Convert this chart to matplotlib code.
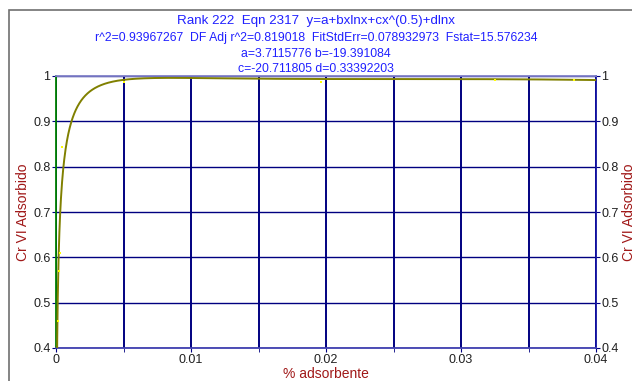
import matplotlib.pyplot as plt
from matplotlib.ticker import MultipleLocator
from matplotlib.patches import Rectangle
import numpy as np

plt.rcParams.update({'font.family': ['Liberation Sans', 'DejaVu Sans'], 'font.size': 8})

# fitted coefficients, eqn 2317: y = a + b*x*ln(x) + c*x^0.5 + d*ln(x)
a = 3.7115776
b = -19.391084
c = -20.711805
d = 0.33392203

# measured points (% adsorbente, Cr VI adsorbido)
x_data = [0.00012, 0.00025, 0.00032, 0.00044, 0.005, 0.0196, 0.0325, 0.0384]
y_data = [0.459, 0.57, 0.61, 0.843, 0.987, 0.987, 0.991, 0.991]

x_ticks = [0, 0.01, 0.02, 0.03, 0.04]
x_labels = ['0', '0.01', '0.02', '0.03', '0.04']
y_ticks = [0.4, 0.5, 0.6, 0.7, 0.8, 0.9, 1.0]
y_labels = ['0.4', '0.5', '0.6', '0.7', '0.8', '0.9', '1']

xf = np.linspace(0.00005, 0.04, 2000)
yf = a + b * xf * np.log(xf) + c * np.sqrt(xf) + d * np.log(xf)

fig = plt.figure(figsize=(6.32, 3.81), dpi=100)

# outer frame
fig.patches.append(Rectangle((9 / 632, -0.1), 1.0, (381 - 10) / 381 + 0.1,
                             transform=fig.transFigure, fill=False,
                             edgecolor='#707070', linewidth=1.2))

ax = fig.add_axes([56 / 632, 33 / 381, 540 / 632, 272 / 381])
ax.plot(xf, yf, color='#808000', linewidth=1.4, zorder=3)
ax.scatter(x_data, y_data, s=3, color='#ffff00', marker='s', zorder=4, linewidths=0)

ax.set_xlim(0, 0.04)
ax.set_ylim(0.4, 1.0)
ax.set_xticks(x_ticks)
ax.set_xticklabels(x_labels)
ax.xaxis.set_minor_locator(MultipleLocator(0.005))
ax.set_yticks(y_ticks)
ax.set_yticklabels(y_labels)

ax.grid(which='major', axis='y', color='#000080', linewidth=1.0)
ax.grid(which='both', axis='x', color='#000080', linewidth=1.4)
ax.tick_params(axis='both', which='both', direction='out', length=3,
               color='#000080', labelcolor='#202020', labelsize=9, pad=1)
ax.tick_params(axis='y', right=True, labelright=True)
ax.tick_params(axis='x', which='minor', length=3)

ax.spines['left'].set_color('#008000')
ax.spines['top'].set_color('#8080c8')
ax.spines['right'].set_color('#1010a0')
ax.spines['bottom'].set_color('#4040b0')
for s in ax.spines.values():
    s.set_linewidth(1.3)

ax.set_xlabel('% adsorbente', color='#a01818', fontsize=10, labelpad=1)
ax.set_ylabel('Cr VI Adsorbido', color='#a01818', fontsize=10, labelpad=2)
ax.text(1.048, 0.5, 'Cr VI Adsorbido', transform=ax.transAxes, rotation=90,
        ha='left', va='center', color='#a01818', fontsize=10)

blue = '#2020ff'
fig.text(0.5, 1 - 21 / 381, 'Rank 222  Eqn 2317  y=a+bxlnx+cx^(0.5)+dlnx',
         ha='center', va='center', color=blue, fontsize=9.6)
fig.text(0.5, 1 - 38 / 381,
         'r^2=0.93967267  DF Adj r^2=0.819018  FitStdErr=0.078932973  Fstat=15.576234',
         ha='center', va='center', color=blue, fontsize=8.8)
fig.text(0.5, 1 - 54 / 381, 'a=3.7115776 b=-19.391084',
         ha='center', va='center', color=blue, fontsize=8.8)
fig.text(0.5, 1 - 69 / 381, 'c=-20.711805 d=0.33392203',
         ha='center', va='center', color=blue, fontsize=8.8)

fig.savefig('out.png', dpi=100)
